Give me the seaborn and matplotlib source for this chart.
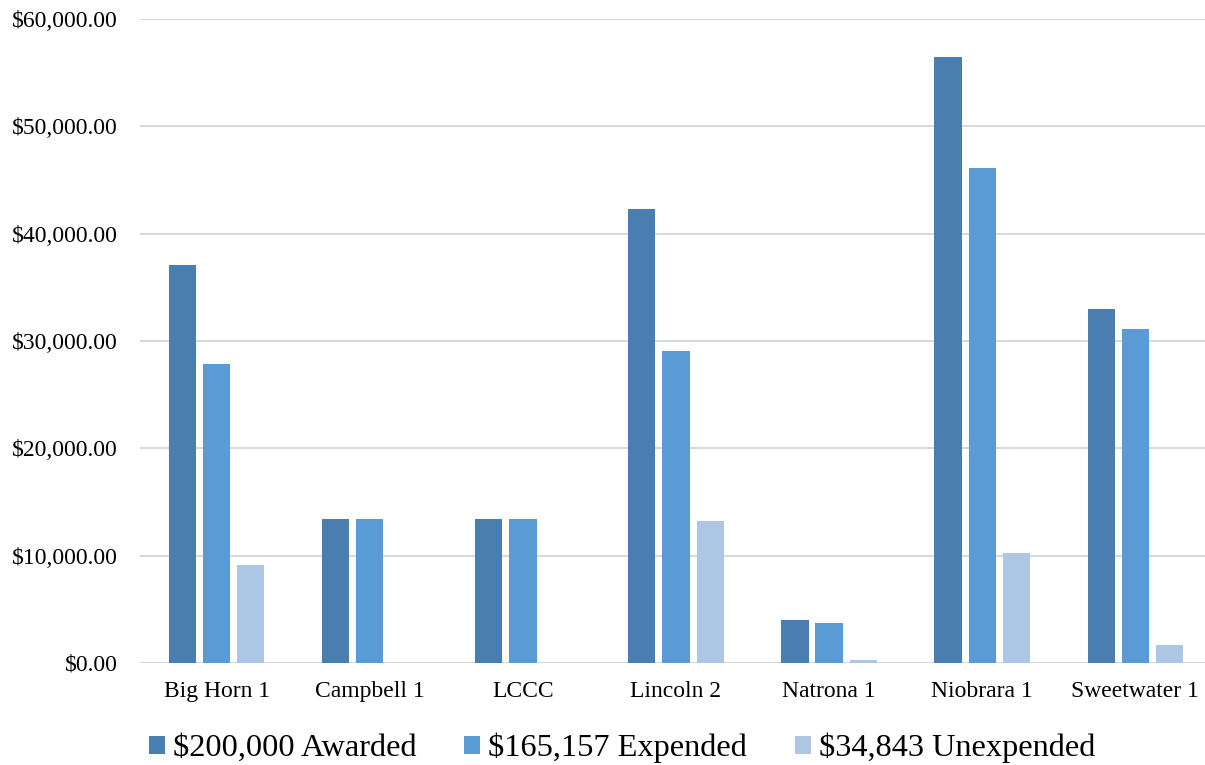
import matplotlib
matplotlib.use("Agg")
import matplotlib.pyplot as plt
import seaborn as sns
import pandas as pd
from matplotlib.ticker import FuncFormatter

categories = ["Big Horn 1", "Campbell 1", "LCCC", "Lincoln 2", "Natrona 1", "Niobrara 1", "Sweetwater 1"]
series_names = ["$200,000 Awarded", "$165,157 Expended", "$34,843 Unexpended"]
awarded = [37050, 13450, 13450, 42330, 4030, 56500, 32950]
expended = [27900, 13450, 13450, 29040, 3730, 46150, 31150]
unexpended = [9100, 0, 0, 13250, 250, 10230, 1700]
y_ticks = [0, 10000, 20000, 30000, 40000, 50000, 60000]
colors = ["#4a7eb0", "#5b9bd5", "#aec6e6"]

rows = []
for name, vals in zip(series_names, [awarded, expended, unexpended]):
    for c, v in zip(categories, vals):
        rows.append({"Category": c, "Series": name, "Value": v})
df = pd.DataFrame(rows)

sns.set_theme(style="white")
plt.rcParams["font.family"] = ["Liberation Serif", "DejaVu Serif"]
plt.rcParams["text.color"] = "#000000"

fig = plt.figure(figsize=(12.05, 7.65), dpi=100)
ax = fig.add_axes([140 / 1205, 1 - 663 / 765, (1212 - 140) / 1205, (663 - 19) / 765])

sns.barplot(data=df, x="Category", y="Value", hue="Series", palette=colors,
            order=categories, hue_order=series_names, width=0.67, gap=0.2,
            ax=ax, saturation=1, edgecolor="none", linewidth=0, legend=True)

ax.set_ylim(0, 60000)
ax.set_xlim(-0.5, 6.5)
ax.set_yticks(y_ticks)
ax.yaxis.set_major_formatter(FuncFormatter(lambda v, p: f"${v:,.2f}"))
ax.grid(axis="y", color="#d9d9d9", linewidth=1.5)
ax.set_axisbelow(True)
for s in ["top", "right", "left", "bottom"]:
    ax.spines[s].set_visible(False)
ax.set_xlabel("")
ax.set_ylabel("")
ax.tick_params(axis="y", length=0, pad=16, labelsize=17, labelcolor="#000000")
ax.tick_params(axis="x", length=0, pad=13, labelsize=17, labelcolor="#000000")

handles, labels = ax.get_legend_handles_labels()
ax.legend_.remove()
leg = fig.legend(handles, labels, loc="center", bbox_to_anchor=(622 / 1205, 1 - 748 / 765),
                 ncol=3, frameon=False, fontsize=23.3, handlelength=0.5, handleheight=0.5,
                 handletextpad=0.25, columnspacing=1.47)
for t in leg.get_texts():
    t.set_color("#000000")

fig.savefig("out.png", dpi=100)
